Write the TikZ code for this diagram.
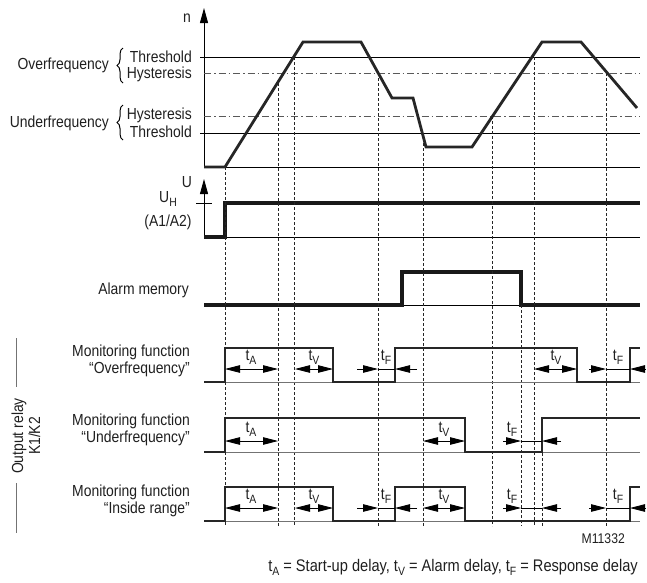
\documentclass[tikz,border=0pt]{standalone}
\usepackage{fontspec}
\setmainfont{Liberation Sans}[FakeStretch=0.87]
\usetikzlibrary{arrows.meta,decorations.pathreplacing}
\newcommand\tsb[1]{t\raisebox{-0.45ex}{\fontsize{12}{12}\selectfont #1}}
\tikzset{
  lbl/.style={font=\fontsize{16}{17}\selectfont, text=black!88, inner sep=0pt},
  thinln/.style={line width=0.9pt, black},
  dashdot/.style={line width=0.9pt, black!65, dash pattern=on 7pt off 3pt on 1.5pt off 3pt},
  vdash/.style={line width=0.8pt, black!85, dash pattern=on 3pt off 2pt},
  greyln/.style={line width=0.9pt, black!55},
  wave/.style={line width=2.6pt, black!85, line join=miter},
  thick wave/.style={line width=3.6pt, black!90, line join=miter},
  tip/.tip={Triangle[length=15pt,width=7.5pt]},
  dim/.style={line width=0.8pt, black},
  brc/.style={decorate, decoration={brace, amplitude=6pt}, line width=1pt},
}
\begin{document}
\begin{tikzpicture}[x=1pt,y=-1pt]
\useasboundingbox (0,0) rectangle (647,582);

% ---------- n diagram ----------
\draw[thinln, -{Triangle[length=15pt,width=8pt]}] (204,167) -- (204,8);
\node[lbl] (nlab) at (187,18) {n};
\draw[thinln] (200,57) -- (640,57);
\draw[dashdot] (204,73) -- (640,73);
\draw[dashdot] (204,116) -- (640,116);
\draw[thinln] (200,133) -- (640,133);
\draw[thinln] (204,167) -- (640,167);

\node[lbl, anchor=east] (othr) at (192,57) {Threshold};
\node[lbl, anchor=east] (ohys) at (192,74) {Hysteresis};
\node[lbl, anchor=east] (uhys) at (192,115) {Hysteresis};
\node[lbl, anchor=east] (uthr) at (192,132) {Threshold};
\node[lbl, anchor=east] (over) at (109,65) {Overfrequency};
\node[lbl, anchor=east] (under) at (109,123) {Underfrequency};
\draw[brc] (123,83) -- (123,48);
\draw[brc] (123,140) -- (123,105);

\draw[wave, line width=2.8pt] (204,167) -- (225,167) -- (303,42) -- (361,42) -- (392,98) -- (413,98)
  -- (426,147) -- (472,147) -- (542,42) -- (581,42) -- (637,108);

% ---------- U diagram ----------
\draw[thinln, -{Triangle[length=15pt,width=8pt]}] (204,237) -- (204,179);
\draw[thinln] (196,203) -- (212,203);
\node[lbl] (ulab) at (187,182) {U};
\node[lbl] (uh) at (168,199) {U\raisebox{-0.45ex}{\fontsize{12}{12}\selectfont H}};
\node[lbl] (a1a2) at (168,222) {(A1/A2)};
\draw[thinln] (204,237) -- (640,237);
\draw[thick wave] (204,237) -- (225,237) -- (225,203) -- (640,203);

% ---------- Alarm memory ----------
\node[lbl, anchor=east] (alarm) at (189,290) {Alarm memory};
\draw[thinln] (204,305) -- (640,305);
\draw[thick wave, line width=3.2pt] (204,305) -- (402,305) -- (402,272) -- (521,272) -- (521,305) -- (640,305);

% ---------- vertical dashed lines ----------
\foreach \x/\y in {225/167, 278/83, 294/57, 378/73, 423/133, 492/116, 521/305, 534/57, 542/418, 606/73}
  \draw[vdash] (\x,\y) -- (\x,526);

% ---------- output relay labels ----------
\draw[greyln] (16,338) -- (16,387);
\draw[greyln] (16,483) -- (16,533);
\node[lbl, rotate=90, align=center] (orel) at (26,436) {Output relay\\K1/K2};

\node[lbl, anchor=east, align=right] (mfo) at (190,361) {Monitoring function\\“Overfrequency”};
\node[lbl, anchor=east, align=right] (mfu) at (190,430) {Monitoring function\\“Underfrequency”};
\node[lbl, anchor=east, align=right] (mfi) at (190,501) {Monitoring function\\“Inside range”};

% baselines
\draw[greyln] (204,382) -- (640,382);
\draw[greyln] (204,452) -- (640,452);
\draw[greyln] (204,521) -- (640,521);

% waves
\draw[wave] (204,382) -- (225,382) -- (225,348) -- (333,348) -- (333,382) -- (395,382) -- (395,348)
  -- (577,348) -- (577,382) -- (630,382) -- (630,348) -- (640,348);
\draw[wave] (204,452) -- (225,452) -- (225,418) -- (465,418) -- (465,452) -- (542,452) -- (542,418) -- (640,418);
\draw[wave] (204,521) -- (225,521) -- (225,487) -- (333,487) -- (333,521) -- (395,521) -- (395,487)
  -- (465,487) -- (465,521) -- (630,521) -- (630,487) -- (640,487);

% ---------- dimension arrows ----------
% overfrequency (y=369)
\draw[dim, tip-tip] (225,369) -- (278,369);
\node[lbl] (oa) at (251,357) {\tsb{A}};
\draw[dim, tip-tip] (295,369) -- (333,369);
\node[lbl] (ov1) at (314,357) {\tsb{V}};
\draw[dim, -tip] (357,369) -- (378,369);
\draw[dim, -tip] (417,369) -- (395,369);
\draw[dim] (378,369) -- (395,369);
\node[lbl] (of1) at (386,357) {\tsb{F}};
\draw[dim, tip-tip] (534,369) -- (577,369);
\node[lbl] (ov2) at (556,357) {\tsb{V}};
\draw[dim, -tip] (589,369) -- (606,369);
\draw[dim, -tip] (645,369) -- (630,369);
\draw[dim] (606,369) -- (630,369);
\node[lbl] (of2) at (618,357) {\tsb{F}};

% underfrequency (y=441)
\draw[dim, tip-tip] (225,441) -- (278,441);
\node[lbl] (ua) at (251,429) {\tsb{A}};
\draw[dim, tip-tip] (423,441) -- (465,441);
\node[lbl] (uv) at (444,429) {\tsb{V}};
\draw[dim, -tip] (503,441) -- (521,441);
\draw[dim, -tip] (561,441) -- (542,441);
\draw[dim] (521,441) -- (542,441);
\node[lbl] (uf) at (512,429) {\tsb{F}};

% inside range (y=508)
\draw[dim, tip-tip] (225,508) -- (278,508);
\node[lbl] (ia) at (251,496) {\tsb{A}};
\draw[dim, tip-tip] (295,508) -- (333,508);
\node[lbl] (iv1) at (314,496) {\tsb{V}};
\draw[dim, -tip] (357,508) -- (378,508);
\draw[dim, -tip] (417,508) -- (395,508);
\draw[dim] (378,508) -- (395,508);
\node[lbl] (if1) at (386,496) {\tsb{F}};
\draw[dim, tip-tip] (423,508) -- (465,508);
\node[lbl] (iv2) at (444,496) {\tsb{V}};
\draw[dim, -tip] (503,508) -- (521,508);
\draw[dim, -tip] (561,508) -- (542,508);
\draw[dim] (521,508) -- (542,508);
\node[lbl] (if2) at (512,496) {\tsb{F}};
\draw[dim, -tip] (589,508) -- (606,508);
\draw[dim, -tip] (645,508) -- (630,508);
\draw[dim] (606,508) -- (630,508);
\node[lbl] (if3) at (618,496) {\tsb{F}};

% ---------- footer ----------
\node[lbl, anchor=east, font=\fontsize{14}{15}\selectfont] (mnum) at (625,539) {M11332};
\node[lbl, anchor=east, font=\fontsize{16.8}{18}\selectfont] (legend) at (638,567) {\tsb{A} = Start-up delay, \tsb{V} = Alarm delay, \tsb{F} = Response delay};
\end{tikzpicture}
\end{document}
